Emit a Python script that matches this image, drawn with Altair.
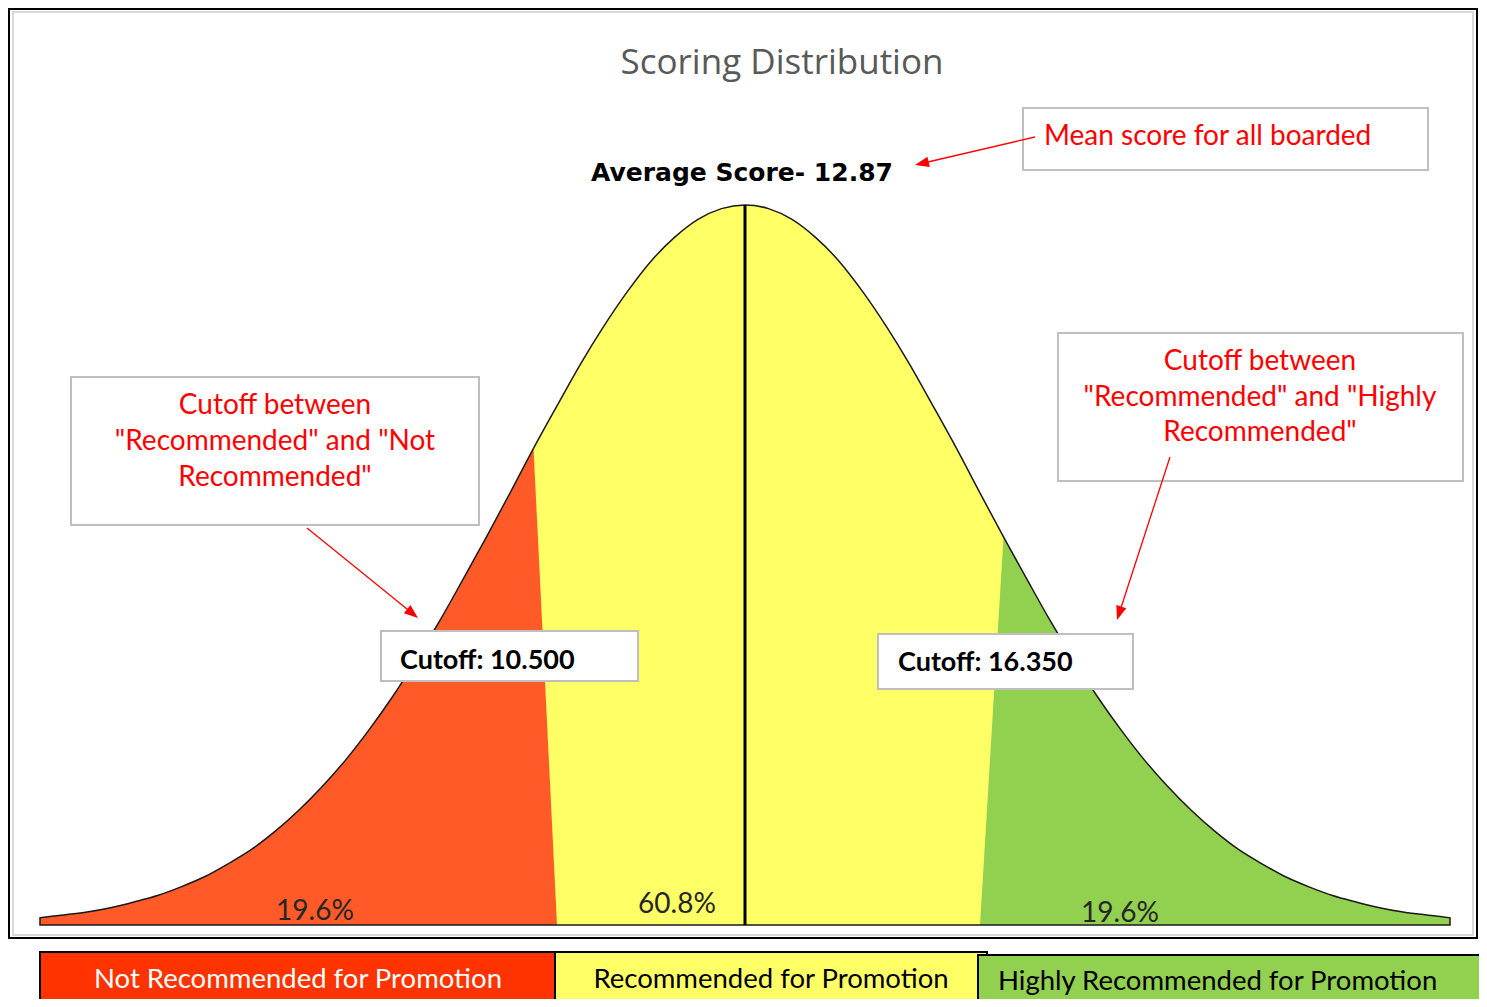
import math
import altair as alt
import pandas as pd

# ---------------- data ----------------
score_index = list(range(61))  # category positions along the score axis
density = [1.0, 1.4, 1.8, 2.4, 3.2, 4.1, 5.3, 6.7, 8.5, 10.5,
           13.0, 15.9, 19.2, 22.9, 27.1, 31.7, 36.8, 42.2, 48.0, 53.9,
           60.0, 66.2, 72.1, 77.9, 83.2, 88.0, 92.2, 95.5, 98.0, 99.5,
           100.0,
           99.5, 98.0, 95.5, 92.2, 88.0, 83.2, 77.9, 72.1, 66.2, 60.0,
           53.9, 48.0, 42.2, 36.8, 31.7, 27.1, 22.9, 19.2, 15.9, 13.0,
           10.5, 8.5, 6.7, 5.3, 4.1, 3.2, 2.4, 1.8, 1.4, 1.0]
red_last = 21      # last category of "Not Recommended"
green_first = 41   # first category of "Highly Recommended"
mean_index = 30
title_text = "Scoring Distribution"
mean_text = "Average Score- 12.87"
cutoff_texts = ["Cutoff: 10.500", "Cutoff: 16.350"]
pct_texts = ["19.6%", "60.8%", "19.6%"]
legend_texts = ["Not Recommended for Promotion", "Recommended for Promotion",
                "Highly Recommended for Promotion"]
note_mean = "Mean score for all boarded"
note_left = ["Cutoff between", "\"Recommended\" and \"Not", "Recommended\""]
note_right = ["Cutoff between", "\"Recommended\" and \"Highly", "Recommended\""]

# ---------------- tables ----------------
curve_df = pd.DataFrame({"i": score_index, "v": density})
red_df = pd.DataFrame({"i": score_index[: red_last + 2],
                       "v": density[: red_last + 1] + [0.0]})
green_df = pd.DataFrame({"i": score_index[green_first - 1:],
                         "v": [0.0] + density[green_first:]})
mean_df = pd.DataFrame({"i": [score_index[mean_index]], "v": [0.0],
                        "v2": [max(density)]})

# ---------------- layout ----------------
W, H = 1471, 991
OX, OY = 8, 8
BODY = "Lato"
RED_C = "#ff5a28"
YEL_C = "#ffff66"
GRN_C = "#92d050"

xs = alt.Scale(domain=[-32 / 23.5, (W - 32) / 23.5], nice=False, zero=False)
ys = alt.Scale(domain=[(917 - H) / 7.2, 917 / 7.2], nice=False, zero=False)


def one():
    return alt.Chart(alt.Data(values=[{"k": 0}]))


def label(text, x, y, size, color="black", weight="normal", align="center",
          font=BODY):
    return one().mark_text(text=text, fontSize=size, color=color,
                           fontWeight=weight, align=align, baseline="middle",
                           font=font).encode(x=alt.value(x - OX),
                                             y=alt.value(y - OY))


def box(x1, y1, x2, y2, fill="white", stroke="#bfbfbf", sw=2):
    return one().mark_rect(fill=fill, stroke=stroke, strokeWidth=sw).encode(
        x=alt.value(x1 - OX), x2=alt.value(x2 - OX),
        y=alt.value(y1 - OY), y2=alt.value(y2 - OY))


def arrow(x0, y0, x1, y1, color="#ff0000", head=14):
    dx, dy = x1 - x0, y1 - y0
    L = math.hypot(dx, dy)
    ux, uy = dx / L, dy / L
    ang = math.degrees(math.atan2(ux, -uy)) % 360
    line = one().mark_rule(color=color, strokeWidth=1.3).encode(
        x=alt.value(x0 - OX), y=alt.value(y0 - OY),
        x2=alt.value(x1 - OX - ux * (head - 3)),
        y2=alt.value(y1 - OY - uy * (head - 3)))
    tip = one().mark_point(shape="M0,-1L0.75,1L-0.75,1Z", size=head * head,
                           angle=ang, filled=True, color=color, opacity=1,
                           strokeWidth=0).encode(
        x=alt.value(x1 - OX - ux * head / 2),
        y=alt.value(y1 - OY - uy * head / 2))
    return line + tip


X = alt.X("i:Q", scale=xs, axis=None)
Y = alt.Y("v:Q", scale=ys, axis=None)

frame = box(9, 9, 1477, 938, fill="white", stroke="black", sw=2)
inner = box(13, 12, 1473, 935, fill="white", stroke="#d9d9d9", sw=2)

yellow = alt.Chart(curve_df).mark_area(color=YEL_C, interpolate="monotone").encode(
    x=X, y=Y)
red = alt.Chart(red_df).mark_area(color=RED_C, interpolate="linear").encode(
    x=X, y=Y)
green = alt.Chart(green_df).mark_area(color=GRN_C, interpolate="linear").encode(
    x=X, y=Y)
outline = alt.Chart(curve_df).mark_area(fillOpacity=0, stroke="#1a1a1a",
                                        strokeWidth=1.5,
                                        interpolate="monotone").encode(x=X, y=Y)
mean_rule = alt.Chart(mean_df).mark_rule(color="black", strokeWidth=3).encode(
    x=X, y=Y, y2="v2:Q")

layers = [frame, inner, yellow, red, green, outline, mean_rule]

# percentage labels
for t, (px, py) in zip(pct_texts, [(315, 912), (677, 905), (1120, 914)]):
    layers.append(label(t, px, py, 28, color="#262626"))

# titles
layers.append(label(title_text, 782, 63, 35, color="#595959", font="Open Sans"))
layers.append(label(mean_text, 742, 173, 25, weight="bold", font="DejaVu Sans"))

# annotation boxes
layers.append(box(1023, 108, 1428, 170))
layers.append(label(note_mean, 1044, 137, 28, color="#ff0000", align="left"))
layers.append(arrow(1035, 137, 915, 165))

layers.append(box(71, 377, 479, 525))
for t, yy in zip(note_left, [406, 442, 478]):
    layers.append(label(t, 275, yy, 28, color="#ff0000"))
layers.append(arrow(307, 528, 418, 618))

layers.append(box(1058, 333, 1463, 481))
for t, yy in zip(note_right, [362, 398, 433]):
    layers.append(label(t, 1260, yy, 28, color="#ff0000"))
layers.append(arrow(1170, 457, 1117, 620))

layers.append(box(381, 631, 638, 681))
layers.append(label(cutoff_texts[0], 400, 661, 27, weight="bold", align="left"))
layers.append(box(878, 634, 1133, 689))
layers.append(label(cutoff_texts[1], 898, 663, 27, weight="bold", align="left"))

# legend bar
layers.append(box(40, 952, 555, 1012, fill="#ff3300", stroke="black", sw=2))
layers.append(box(555, 952, 987, 1012, fill="#ffff66", stroke="black", sw=2))
layers.append(box(978, 955, 1495, 1012, fill="#92d050", stroke="black", sw=2))
layers.append(label(legend_texts[0], 298, 980, 27.5, color="white"))
layers.append(label(legend_texts[1], 771, 980, 27.5))
layers.append(label(legend_texts[2], 998, 982, 27.5, align="left"))

chart = alt.layer(*layers).properties(
    width=W, height=H, padding=0, autosize=alt.AutoSizeParams(type="none")
).configure_view(stroke=None)

chart.save("out.html", embed_options={"renderer": "svg", "actions": False})
